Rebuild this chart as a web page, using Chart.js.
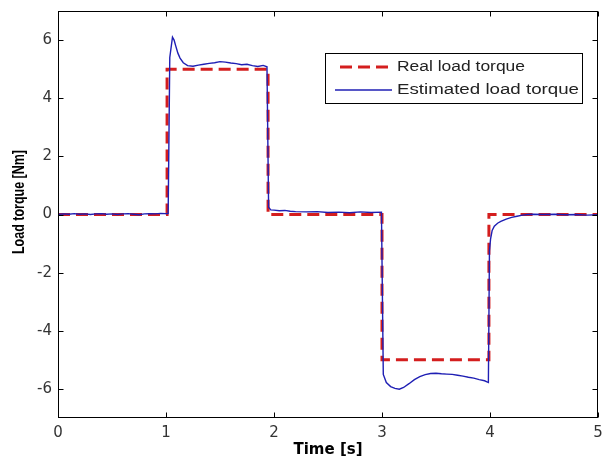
<!DOCTYPE html>
<html>
<head>
<meta charset="utf-8">
<script src="https://cdn.jsdelivr.net/npm/chart.js@4"></script>
<style>
  html, body { margin: 0; padding: 0; background: #fff; }
  #wrap { width: 602px; height: 462px; }
</style>
</head>
<body>
<div id="wrap"><canvas id="torqueChart" width="602" height="462"></canvas></div>
<script>
// values (time in s, torque in Nm)
const REAL_T = [0, 1.01, 1.01, 1.945, 1.945, 3.0, 3.0, 3.99, 3.99, 5];
const REAL_V = [0, 0, 5, 5, 0, 0, -5, -5, 0, 0];

const EST_T = [
  0, 0.05, 0.1, 0.15, 0.2, 0.25, 0.3, 0.35, 0.4, 0.45, 0.5, 0.55, 0.6, 0.65, 0.7, 0.75, 0.8, 0.85, 0.9, 0.95, 1.0, 1.02,
  1.035, 1.06, 1.075, 1.09, 1.11, 1.13, 1.16, 1.2, 1.25, 1.3, 1.35, 1.4, 1.45, 1.5, 1.55, 1.6, 1.65, 1.7, 1.75, 1.8, 1.85, 1.9, 1.935,
  1.95, 1.97, 2.0, 2.05, 2.1, 2.15, 2.2, 2.3, 2.4, 2.5, 2.6, 2.7, 2.8, 2.9, 2.995,
  3.012, 3.04, 3.08, 3.12, 3.16, 3.2, 3.25, 3.3, 3.35, 3.4, 3.45, 3.5, 3.55, 3.6, 3.65, 3.7, 3.75, 3.8, 3.85, 3.9, 3.95, 3.985,
  3.995, 4.005, 4.02, 4.04, 4.07, 4.1, 4.15, 4.2, 4.25, 4.3, 4.35, 4.4, 4.5, 4.6, 4.7, 4.8, 4.9, 5.0
];
const EST_V = [
  0.0, 0.02, 0.01, 0.03, 0.01, 0.02, 0.0, 0.02, 0.03, 0.01, 0.02, 0.0, 0.02, 0.03, 0.01, -0.01, 0.02, 0.03, 0.02, 0.04, 0.03, 0.03,
  5.4, 6.1, 6.0, 5.8, 5.55, 5.38, 5.22, 5.12, 5.1, 5.14, 5.17, 5.2, 5.22, 5.26, 5.24, 5.21, 5.19, 5.15, 5.17, 5.12, 5.09, 5.13, 5.08,
  0.25, 0.16, 0.15, 0.13, 0.14, 0.11, 0.1, 0.09, 0.1, 0.07, 0.08, 0.06, 0.09, 0.07, 0.08,
  -5.5, -5.78, -5.92, -5.98, -6.01, -5.95, -5.82, -5.68, -5.58, -5.51, -5.47, -5.46, -5.48, -5.49, -5.5, -5.53, -5.56, -5.6, -5.63, -5.68, -5.72, -5.78,
  -1.25, -0.85, -0.55, -0.4, -0.3, -0.24, -0.16, -0.1, -0.06, -0.02, 0.0, 0.01, 0.0, 0.01, -0.01, 0.0, -0.02, -0.01
];

const X_TICKS = [0, 1, 2, 3, 4, 5];
const Y_TICKS = [-6, -4, -2, 0, 2, 4, 6];
const LEGEND_LABELS = ['Real load torque', 'Estimated load torque'];

const RED = '#d41e1e';
const BLUE = '#1f1fb4';
const RED_DASH = [12, 6];

function toPoints(ts, vs) {
  return ts.map((t, i) => ({ x: t, y: vs[i] }));
}

// text squeezed/stretched to a given width (the figure's fonts are wide)
function fitText(ctx, text, x, y, width, yScale) {
  const w = ctx.measureText(text).width;
  ctx.save();
  ctx.translate(x, y);
  ctx.scale(width / w, yScale || 1);
  ctx.fillText(text, 0, 0);
  ctx.restore();
}

// matlab-ish frame: full box, inward ticks, legend box, y label
const matlabFrame = {
  id: 'matlabFrame',
  afterDraw(chart) {
    const { ctx, chartArea: a, scales: { x, y } } = chart;
    ctx.save();
    ctx.strokeStyle = '#000';
    ctx.lineWidth = 1;
    const L = Math.round(a.left) + 0.5, R = Math.round(a.right) - 0.5;
    const T = Math.round(a.top) + 0.5, B = Math.round(a.bottom) - 0.5;
    ctx.strokeRect(L, T, R - L, B - T);

    ctx.beginPath();
    X_TICKS.forEach(v => {
      const px = Math.round(x.getPixelForValue(v)) + 0.5;
      ctx.moveTo(px, B); ctx.lineTo(px, B - 5);
      ctx.moveTo(px, T); ctx.lineTo(px, T + 5);
    });
    Y_TICKS.forEach(v => {
      const py = Math.round(y.getPixelForValue(v)) + 0.5;
      ctx.moveTo(L, py); ctx.lineTo(L + 5, py);
      ctx.moveTo(R, py); ctx.lineTo(R - 5, py);
    });
    ctx.stroke();

    // legend
    const lx = 325.5, ly = 53.5, lw = 257, lh = 50;
    ctx.fillStyle = '#fff';
    ctx.fillRect(lx, ly, lw, lh);
    ctx.strokeRect(lx, ly, lw, lh);

    ctx.strokeStyle = RED;
    ctx.lineWidth = 3;
    ctx.setLineDash(RED_DASH);
    ctx.beginPath(); ctx.moveTo(340, 67); ctx.lineTo(392, 67); ctx.stroke();
    ctx.setLineDash([]);
    ctx.strokeStyle = BLUE;
    ctx.lineWidth = 1.3;
    ctx.beginPath(); ctx.moveTo(335, 90); ctx.lineTo(392, 90); ctx.stroke();

    ctx.fillStyle = '#222';
    ctx.font = '14px "Liberation Sans", Arial, sans-serif';
    ctx.textBaseline = 'middle';
    ctx.textAlign = 'left';
    fitText(ctx, LEGEND_LABELS[0], 397, 67, 128);
    fitText(ctx, LEGEND_LABELS[1], 397, 90, 182);

    // y axis label
    ctx.fillStyle = '#000';
    ctx.font = 'bold 12px "Liberation Sans", Arial, sans-serif';
    ctx.save();
    ctx.translate(20, 202);
    ctx.rotate(-Math.PI / 2);
    ctx.textAlign = 'left';
    fitText(ctx, 'Load torque [Nm]', -52, 0, 104, 1.3);
    ctx.restore();
    ctx.restore();
  }
};

const tickFont = { family: '"DejaVu Sans", sans-serif', size: 15 };

new Chart(document.getElementById('torqueChart'), {
  type: 'line',
  data: {
    datasets: [
      {
        label: LEGEND_LABELS[0],
        data: toPoints(REAL_T, REAL_V),
        borderColor: RED,
        borderWidth: 3,
        borderDash: RED_DASH,
        pointRadius: 0,
        tension: 0,
        order: 1
      },
      {
        label: LEGEND_LABELS[1],
        data: toPoints(EST_T, EST_V),
        borderColor: BLUE,
        borderWidth: 1.4,
        pointRadius: 0,
        tension: 0,
        order: 0
      }
    ]
  },
  options: {
    responsive: false,
    animation: false,
    devicePixelRatio: 1,
    layout: { padding: { top: 11, right: 4, left: 0, bottom: 0 } },
    plugins: { legend: { display: false }, tooltip: { enabled: false } },
    scales: {
      x: {
        type: 'linear',
        min: 0, max: 5,
        afterBuildTicks: s => { s.ticks = X_TICKS.map(v => ({ value: v })); },
        afterFit: s => { s.height = 44; s.paddingLeft = 0; s.paddingRight = 0; },
        grid: { display: false, drawTicks: false },
        border: { display: false },
        ticks: { font: tickFont, color: '#333', padding: 6, maxRotation: 0 },
        title: {
          display: true,
          text: 'Time [s]',
          color: '#000',
          font: { family: '"DejaVu Sans", sans-serif', size: 15, weight: 'bold' },
          padding: { top: 0, bottom: 3 }
        }
      },
      y: {
        type: 'linear',
        min: -7, max: 7,
        afterBuildTicks: s => { s.ticks = Y_TICKS.map(v => ({ value: v })); },
        afterFit: s => { s.width = 58; s.paddingTop = 0; s.paddingBottom = 0; },
        grid: { display: false, drawTicks: false },
        border: { display: false },
        ticks: { font: tickFont, color: '#333', padding: 6 }
      }
    }
  },
  plugins: [matlabFrame]
});
</script>
</body>
</html>
